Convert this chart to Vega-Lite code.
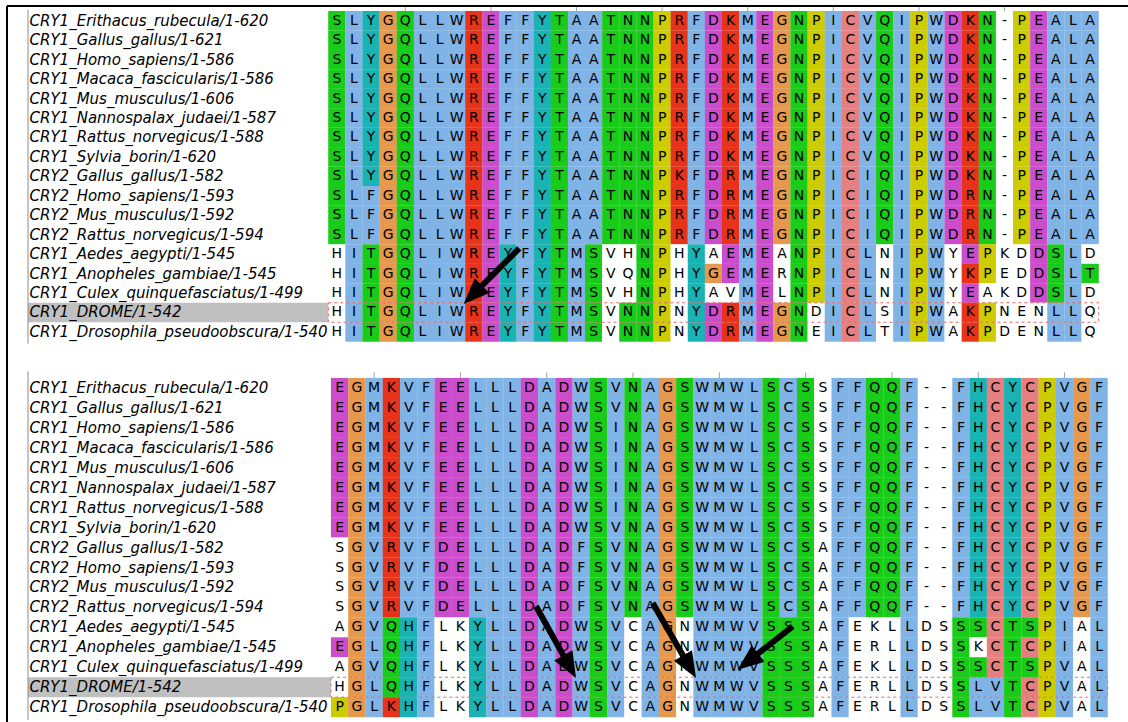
{"$schema":"https://vega.github.io/schema/vega-lite/v6.json","padding":{"left":5,"top":5,"right":0,"bottom":0},"background":"white","config":{"view":{"stroke":null},"axis":{"disable":true}},"spacing":0,"bounds":"flush","resolve":{"scale":{"x":"independent","y":"independent"}},
"datasets":{
"names":[{"r":1,"n":"CRY1_Erithacus_rubecula/1-620"},{"r":2,"n":"CRY1_Gallus_gallus/1-621"},{"r":3,"n":"CRY1_Homo_sapiens/1-586"},{"r":4,"n":"CRY1_Macaca_fascicularis/1-586"},{"r":5,"n":"CRY1_Mus_musculus/1-606"},{"r":6,"n":"CRY1_Nannospalax_judaei/1-587"},{"r":7,"n":"CRY1_Rattus_norvegicus/1-588"},{"r":8,"n":"CRY1_Sylvia_borin/1-620"},{"r":9,"n":"CRY2_Gallus_gallus/1-582"},{"r":10,"n":"CRY2_Homo_sapiens/1-593"},{"r":11,"n":"CRY2_Mus_musculus/1-592"},{"r":12,"n":"CRY2_Rattus_norvegicus/1-594"},{"r":13,"n":"CRY1_Aedes_aegypti/1-545"},{"r":14,"n":"CRY1_Anopheles_gambiae/1-545"},{"r":15,"n":"CRY1_Culex_quinquefasciatus/1-499"},{"r":16,"n":"CRY1_DROME/1-542"},{"r":17,"n":"CRY1_Drosophila_pseudoobscura/1-540"}],
"tickA":[{"c":5},{"c":10},{"c":15},{"c":20},{"c":25},{"c":30},{"c":35},{"c":40}],
"tickB":[{"c":3},{"c":8},{"c":13},{"c":18},{"c":23},{"c":28},{"c":33},{"c":38},{"c":43}],
"arrA":[{"x":11.657,"y":12.7,"nx":9.316,"ny":14.759,"tx":8.409,"ty":15.56}],
"arrB":[{"x":12.377,"y":11.94,"nx":14.074,"ny":14.577,"tx":14.695,"ty":15.54},{"x":19.138,"y":11.78,"nx":21.01,"ny":14.585,"tx":21.647,"ty":15.54},{"x":27.25,"y":12.95,"nx":25.06,"ny":14.437,"tx":24.06,"ty":15.12}],
"top":[
{"r":1,"c":1,"a":"S","k":"g"},{"r":1,"c":2,"a":"L","k":"b"},{"r":1,"c":3,"a":"Y","k":"c"},{"r":1,"c":4,"a":"G","k":"o"},{"r":1,"c":5,"a":"Q","k":"g"},{"r":1,"c":6,"a":"L","k":"b"},{"r":1,"c":7,"a":"L","k":"b"},{"r":1,"c":8,"a":"W","k":"b"},{"r":1,"c":9,"a":"R","k":"r"},{"r":1,"c":10,"a":"E","k":"m"},{"r":1,"c":11,"a":"F","k":"b"},{"r":1,"c":12,"a":"F","k":"b"},{"r":1,"c":13,"a":"Y","k":"c"},{"r":1,"c":14,"a":"T","k":"g"},{"r":1,"c":15,"a":"A","k":"b"},{"r":1,"c":16,"a":"A","k":"b"},{"r":1,"c":17,"a":"T","k":"g"},{"r":1,"c":18,"a":"N","k":"g"},{"r":1,"c":19,"a":"N","k":"g"},{"r":1,"c":20,"a":"P","k":"y"},{"r":1,"c":21,"a":"R","k":"r"},{"r":1,"c":22,"a":"F","k":"b"},{"r":1,"c":23,"a":"D","k":"m"},{"r":1,"c":24,"a":"K","k":"r"},{"r":1,"c":25,"a":"M","k":"b"},{"r":1,"c":26,"a":"E","k":"m"},{"r":1,"c":27,"a":"G","k":"o"},{"r":1,"c":28,"a":"N","k":"g"},{"r":1,"c":29,"a":"P","k":"y"},{"r":1,"c":30,"a":"I","k":"b"},{"r":1,"c":31,"a":"C","k":"p"},{"r":1,"c":32,"a":"V","k":"b"},{"r":1,"c":33,"a":"Q","k":"g"},{"r":1,"c":34,"a":"I","k":"b"},{"r":1,"c":35,"a":"P","k":"y"},{"r":1,"c":36,"a":"W","k":"b"},{"r":1,"c":37,"a":"D","k":"m"},{"r":1,"c":38,"a":"K","k":"r"},{"r":1,"c":39,"a":"N","k":"g"},{"r":1,"c":40,"a":"-","k":"w"},{"r":1,"c":41,"a":"P","k":"y"},{"r":1,"c":42,"a":"E","k":"m"},{"r":1,"c":43,"a":"A","k":"b"},{"r":1,"c":44,"a":"L","k":"b"},{"r":1,"c":45,"a":"A","k":"b"},
{"r":2,"c":1,"a":"S","k":"g"},{"r":2,"c":2,"a":"L","k":"b"},{"r":2,"c":3,"a":"Y","k":"c"},{"r":2,"c":4,"a":"G","k":"o"},{"r":2,"c":5,"a":"Q","k":"g"},{"r":2,"c":6,"a":"L","k":"b"},{"r":2,"c":7,"a":"L","k":"b"},{"r":2,"c":8,"a":"W","k":"b"},{"r":2,"c":9,"a":"R","k":"r"},{"r":2,"c":10,"a":"E","k":"m"},{"r":2,"c":11,"a":"F","k":"b"},{"r":2,"c":12,"a":"F","k":"b"},{"r":2,"c":13,"a":"Y","k":"c"},{"r":2,"c":14,"a":"T","k":"g"},{"r":2,"c":15,"a":"A","k":"b"},{"r":2,"c":16,"a":"A","k":"b"},{"r":2,"c":17,"a":"T","k":"g"},{"r":2,"c":18,"a":"N","k":"g"},{"r":2,"c":19,"a":"N","k":"g"},{"r":2,"c":20,"a":"P","k":"y"},{"r":2,"c":21,"a":"R","k":"r"},{"r":2,"c":22,"a":"F","k":"b"},{"r":2,"c":23,"a":"D","k":"m"},{"r":2,"c":24,"a":"K","k":"r"},{"r":2,"c":25,"a":"M","k":"b"},{"r":2,"c":26,"a":"E","k":"m"},{"r":2,"c":27,"a":"G","k":"o"},{"r":2,"c":28,"a":"N","k":"g"},{"r":2,"c":29,"a":"P","k":"y"},{"r":2,"c":30,"a":"I","k":"b"},{"r":2,"c":31,"a":"C","k":"p"},{"r":2,"c":32,"a":"V","k":"b"},{"r":2,"c":33,"a":"Q","k":"g"},{"r":2,"c":34,"a":"I","k":"b"},{"r":2,"c":35,"a":"P","k":"y"},{"r":2,"c":36,"a":"W","k":"b"},{"r":2,"c":37,"a":"D","k":"m"},{"r":2,"c":38,"a":"K","k":"r"},{"r":2,"c":39,"a":"N","k":"g"},{"r":2,"c":40,"a":"-","k":"w"},{"r":2,"c":41,"a":"P","k":"y"},{"r":2,"c":42,"a":"E","k":"m"},{"r":2,"c":43,"a":"A","k":"b"},{"r":2,"c":44,"a":"L","k":"b"},{"r":2,"c":45,"a":"A","k":"b"},
{"r":3,"c":1,"a":"S","k":"g"},{"r":3,"c":2,"a":"L","k":"b"},{"r":3,"c":3,"a":"Y","k":"c"},{"r":3,"c":4,"a":"G","k":"o"},{"r":3,"c":5,"a":"Q","k":"g"},{"r":3,"c":6,"a":"L","k":"b"},{"r":3,"c":7,"a":"L","k":"b"},{"r":3,"c":8,"a":"W","k":"b"},{"r":3,"c":9,"a":"R","k":"r"},{"r":3,"c":10,"a":"E","k":"m"},{"r":3,"c":11,"a":"F","k":"b"},{"r":3,"c":12,"a":"F","k":"b"},{"r":3,"c":13,"a":"Y","k":"c"},{"r":3,"c":14,"a":"T","k":"g"},{"r":3,"c":15,"a":"A","k":"b"},{"r":3,"c":16,"a":"A","k":"b"},{"r":3,"c":17,"a":"T","k":"g"},{"r":3,"c":18,"a":"N","k":"g"},{"r":3,"c":19,"a":"N","k":"g"},{"r":3,"c":20,"a":"P","k":"y"},{"r":3,"c":21,"a":"R","k":"r"},{"r":3,"c":22,"a":"F","k":"b"},{"r":3,"c":23,"a":"D","k":"m"},{"r":3,"c":24,"a":"K","k":"r"},{"r":3,"c":25,"a":"M","k":"b"},{"r":3,"c":26,"a":"E","k":"m"},{"r":3,"c":27,"a":"G","k":"o"},{"r":3,"c":28,"a":"N","k":"g"},{"r":3,"c":29,"a":"P","k":"y"},{"r":3,"c":30,"a":"I","k":"b"},{"r":3,"c":31,"a":"C","k":"p"},{"r":3,"c":32,"a":"V","k":"b"},{"r":3,"c":33,"a":"Q","k":"g"},{"r":3,"c":34,"a":"I","k":"b"},{"r":3,"c":35,"a":"P","k":"y"},{"r":3,"c":36,"a":"W","k":"b"},{"r":3,"c":37,"a":"D","k":"m"},{"r":3,"c":38,"a":"K","k":"r"},{"r":3,"c":39,"a":"N","k":"g"},{"r":3,"c":40,"a":"-","k":"w"},{"r":3,"c":41,"a":"P","k":"y"},{"r":3,"c":42,"a":"E","k":"m"},{"r":3,"c":43,"a":"A","k":"b"},{"r":3,"c":44,"a":"L","k":"b"},{"r":3,"c":45,"a":"A","k":"b"},
{"r":4,"c":1,"a":"S","k":"g"},{"r":4,"c":2,"a":"L","k":"b"},{"r":4,"c":3,"a":"Y","k":"c"},{"r":4,"c":4,"a":"G","k":"o"},{"r":4,"c":5,"a":"Q","k":"g"},{"r":4,"c":6,"a":"L","k":"b"},{"r":4,"c":7,"a":"L","k":"b"},{"r":4,"c":8,"a":"W","k":"b"},{"r":4,"c":9,"a":"R","k":"r"},{"r":4,"c":10,"a":"E","k":"m"},{"r":4,"c":11,"a":"F","k":"b"},{"r":4,"c":12,"a":"F","k":"b"},{"r":4,"c":13,"a":"Y","k":"c"},{"r":4,"c":14,"a":"T","k":"g"},{"r":4,"c":15,"a":"A","k":"b"},{"r":4,"c":16,"a":"A","k":"b"},{"r":4,"c":17,"a":"T","k":"g"},{"r":4,"c":18,"a":"N","k":"g"},{"r":4,"c":19,"a":"N","k":"g"},{"r":4,"c":20,"a":"P","k":"y"},{"r":4,"c":21,"a":"R","k":"r"},{"r":4,"c":22,"a":"F","k":"b"},{"r":4,"c":23,"a":"D","k":"m"},{"r":4,"c":24,"a":"K","k":"r"},{"r":4,"c":25,"a":"M","k":"b"},{"r":4,"c":26,"a":"E","k":"m"},{"r":4,"c":27,"a":"G","k":"o"},{"r":4,"c":28,"a":"N","k":"g"},{"r":4,"c":29,"a":"P","k":"y"},{"r":4,"c":30,"a":"I","k":"b"},{"r":4,"c":31,"a":"C","k":"p"},{"r":4,"c":32,"a":"V","k":"b"},{"r":4,"c":33,"a":"Q","k":"g"},{"r":4,"c":34,"a":"I","k":"b"},{"r":4,"c":35,"a":"P","k":"y"},{"r":4,"c":36,"a":"W","k":"b"},{"r":4,"c":37,"a":"D","k":"m"},{"r":4,"c":38,"a":"K","k":"r"},{"r":4,"c":39,"a":"N","k":"g"},{"r":4,"c":40,"a":"-","k":"w"},{"r":4,"c":41,"a":"P","k":"y"},{"r":4,"c":42,"a":"E","k":"m"},{"r":4,"c":43,"a":"A","k":"b"},{"r":4,"c":44,"a":"L","k":"b"},{"r":4,"c":45,"a":"A","k":"b"},
{"r":5,"c":1,"a":"S","k":"g"},{"r":5,"c":2,"a":"L","k":"b"},{"r":5,"c":3,"a":"Y","k":"c"},{"r":5,"c":4,"a":"G","k":"o"},{"r":5,"c":5,"a":"Q","k":"g"},{"r":5,"c":6,"a":"L","k":"b"},{"r":5,"c":7,"a":"L","k":"b"},{"r":5,"c":8,"a":"W","k":"b"},{"r":5,"c":9,"a":"R","k":"r"},{"r":5,"c":10,"a":"E","k":"m"},{"r":5,"c":11,"a":"F","k":"b"},{"r":5,"c":12,"a":"F","k":"b"},{"r":5,"c":13,"a":"Y","k":"c"},{"r":5,"c":14,"a":"T","k":"g"},{"r":5,"c":15,"a":"A","k":"b"},{"r":5,"c":16,"a":"A","k":"b"},{"r":5,"c":17,"a":"T","k":"g"},{"r":5,"c":18,"a":"N","k":"g"},{"r":5,"c":19,"a":"N","k":"g"},{"r":5,"c":20,"a":"P","k":"y"},{"r":5,"c":21,"a":"R","k":"r"},{"r":5,"c":22,"a":"F","k":"b"},{"r":5,"c":23,"a":"D","k":"m"},{"r":5,"c":24,"a":"K","k":"r"},{"r":5,"c":25,"a":"M","k":"b"},{"r":5,"c":26,"a":"E","k":"m"},{"r":5,"c":27,"a":"G","k":"o"},{"r":5,"c":28,"a":"N","k":"g"},{"r":5,"c":29,"a":"P","k":"y"},{"r":5,"c":30,"a":"I","k":"b"},{"r":5,"c":31,"a":"C","k":"p"},{"r":5,"c":32,"a":"V","k":"b"},{"r":5,"c":33,"a":"Q","k":"g"},{"r":5,"c":34,"a":"I","k":"b"},{"r":5,"c":35,"a":"P","k":"y"},{"r":5,"c":36,"a":"W","k":"b"},{"r":5,"c":37,"a":"D","k":"m"},{"r":5,"c":38,"a":"K","k":"r"},{"r":5,"c":39,"a":"N","k":"g"},{"r":5,"c":40,"a":"-","k":"w"},{"r":5,"c":41,"a":"P","k":"y"},{"r":5,"c":42,"a":"E","k":"m"},{"r":5,"c":43,"a":"A","k":"b"},{"r":5,"c":44,"a":"L","k":"b"},{"r":5,"c":45,"a":"A","k":"b"},
{"r":6,"c":1,"a":"S","k":"g"},{"r":6,"c":2,"a":"L","k":"b"},{"r":6,"c":3,"a":"Y","k":"c"},{"r":6,"c":4,"a":"G","k":"o"},{"r":6,"c":5,"a":"Q","k":"g"},{"r":6,"c":6,"a":"L","k":"b"},{"r":6,"c":7,"a":"L","k":"b"},{"r":6,"c":8,"a":"W","k":"b"},{"r":6,"c":9,"a":"R","k":"r"},{"r":6,"c":10,"a":"E","k":"m"},{"r":6,"c":11,"a":"F","k":"b"},{"r":6,"c":12,"a":"F","k":"b"},{"r":6,"c":13,"a":"Y","k":"c"},{"r":6,"c":14,"a":"T","k":"g"},{"r":6,"c":15,"a":"A","k":"b"},{"r":6,"c":16,"a":"A","k":"b"},{"r":6,"c":17,"a":"T","k":"g"},{"r":6,"c":18,"a":"N","k":"g"},{"r":6,"c":19,"a":"N","k":"g"},{"r":6,"c":20,"a":"P","k":"y"},{"r":6,"c":21,"a":"R","k":"r"},{"r":6,"c":22,"a":"F","k":"b"},{"r":6,"c":23,"a":"D","k":"m"},{"r":6,"c":24,"a":"K","k":"r"},{"r":6,"c":25,"a":"M","k":"b"},{"r":6,"c":26,"a":"E","k":"m"},{"r":6,"c":27,"a":"G","k":"o"},{"r":6,"c":28,"a":"N","k":"g"},{"r":6,"c":29,"a":"P","k":"y"},{"r":6,"c":30,"a":"I","k":"b"},{"r":6,"c":31,"a":"C","k":"p"},{"r":6,"c":32,"a":"V","k":"b"},{"r":6,"c":33,"a":"Q","k":"g"},{"r":6,"c":34,"a":"I","k":"b"},{"r":6,"c":35,"a":"P","k":"y"},{"r":6,"c":36,"a":"W","k":"b"},{"r":6,"c":37,"a":"D","k":"m"},{"r":6,"c":38,"a":"K","k":"r"},{"r":6,"c":39,"a":"N","k":"g"},{"r":6,"c":40,"a":"-","k":"w"},{"r":6,"c":41,"a":"P","k":"y"},{"r":6,"c":42,"a":"E","k":"m"},{"r":6,"c":43,"a":"A","k":"b"},{"r":6,"c":44,"a":"L","k":"b"},{"r":6,"c":45,"a":"A","k":"b"},
{"r":7,"c":1,"a":"S","k":"g"},{"r":7,"c":2,"a":"L","k":"b"},{"r":7,"c":3,"a":"Y","k":"c"},{"r":7,"c":4,"a":"G","k":"o"},{"r":7,"c":5,"a":"Q","k":"g"},{"r":7,"c":6,"a":"L","k":"b"},{"r":7,"c":7,"a":"L","k":"b"},{"r":7,"c":8,"a":"W","k":"b"},{"r":7,"c":9,"a":"R","k":"r"},{"r":7,"c":10,"a":"E","k":"m"},{"r":7,"c":11,"a":"F","k":"b"},{"r":7,"c":12,"a":"F","k":"b"},{"r":7,"c":13,"a":"Y","k":"c"},{"r":7,"c":14,"a":"T","k":"g"},{"r":7,"c":15,"a":"A","k":"b"},{"r":7,"c":16,"a":"A","k":"b"},{"r":7,"c":17,"a":"T","k":"g"},{"r":7,"c":18,"a":"N","k":"g"},{"r":7,"c":19,"a":"N","k":"g"},{"r":7,"c":20,"a":"P","k":"y"},{"r":7,"c":21,"a":"R","k":"r"},{"r":7,"c":22,"a":"F","k":"b"},{"r":7,"c":23,"a":"D","k":"m"},{"r":7,"c":24,"a":"K","k":"r"},{"r":7,"c":25,"a":"M","k":"b"},{"r":7,"c":26,"a":"E","k":"m"},{"r":7,"c":27,"a":"G","k":"o"},{"r":7,"c":28,"a":"N","k":"g"},{"r":7,"c":29,"a":"P","k":"y"},{"r":7,"c":30,"a":"I","k":"b"},{"r":7,"c":31,"a":"C","k":"p"},{"r":7,"c":32,"a":"V","k":"b"},{"r":7,"c":33,"a":"Q","k":"g"},{"r":7,"c":34,"a":"I","k":"b"},{"r":7,"c":35,"a":"P","k":"y"},{"r":7,"c":36,"a":"W","k":"b"},{"r":7,"c":37,"a":"D","k":"m"},{"r":7,"c":38,"a":"K","k":"r"},{"r":7,"c":39,"a":"N","k":"g"},{"r":7,"c":40,"a":"-","k":"w"},{"r":7,"c":41,"a":"P","k":"y"},{"r":7,"c":42,"a":"E","k":"m"},{"r":7,"c":43,"a":"A","k":"b"},{"r":7,"c":44,"a":"L","k":"b"},{"r":7,"c":45,"a":"A","k":"b"},
{"r":8,"c":1,"a":"S","k":"g"},{"r":8,"c":2,"a":"L","k":"b"},{"r":8,"c":3,"a":"Y","k":"c"},{"r":8,"c":4,"a":"G","k":"o"},{"r":8,"c":5,"a":"Q","k":"g"},{"r":8,"c":6,"a":"L","k":"b"},{"r":8,"c":7,"a":"L","k":"b"},{"r":8,"c":8,"a":"W","k":"b"},{"r":8,"c":9,"a":"R","k":"r"},{"r":8,"c":10,"a":"E","k":"m"},{"r":8,"c":11,"a":"F","k":"b"},{"r":8,"c":12,"a":"F","k":"b"},{"r":8,"c":13,"a":"Y","k":"c"},{"r":8,"c":14,"a":"T","k":"g"},{"r":8,"c":15,"a":"A","k":"b"},{"r":8,"c":16,"a":"A","k":"b"},{"r":8,"c":17,"a":"T","k":"g"},{"r":8,"c":18,"a":"N","k":"g"},{"r":8,"c":19,"a":"N","k":"g"},{"r":8,"c":20,"a":"P","k":"y"},{"r":8,"c":21,"a":"R","k":"r"},{"r":8,"c":22,"a":"F","k":"b"},{"r":8,"c":23,"a":"D","k":"m"},{"r":8,"c":24,"a":"K","k":"r"},{"r":8,"c":25,"a":"M","k":"b"},{"r":8,"c":26,"a":"E","k":"m"},{"r":8,"c":27,"a":"G","k":"o"},{"r":8,"c":28,"a":"N","k":"g"},{"r":8,"c":29,"a":"P","k":"y"},{"r":8,"c":30,"a":"I","k":"b"},{"r":8,"c":31,"a":"C","k":"p"},{"r":8,"c":32,"a":"V","k":"b"},{"r":8,"c":33,"a":"Q","k":"g"},{"r":8,"c":34,"a":"I","k":"b"},{"r":8,"c":35,"a":"P","k":"y"},{"r":8,"c":36,"a":"W","k":"b"},{"r":8,"c":37,"a":"D","k":"m"},{"r":8,"c":38,"a":"K","k":"r"},{"r":8,"c":39,"a":"N","k":"g"},{"r":8,"c":40,"a":"-","k":"w"},{"r":8,"c":41,"a":"P","k":"y"},{"r":8,"c":42,"a":"E","k":"m"},{"r":8,"c":43,"a":"A","k":"b"},{"r":8,"c":44,"a":"L","k":"b"},{"r":8,"c":45,"a":"A","k":"b"},
{"r":9,"c":1,"a":"S","k":"g"},{"r":9,"c":2,"a":"L","k":"b"},{"r":9,"c":3,"a":"Y","k":"c"},{"r":9,"c":4,"a":"G","k":"o"},{"r":9,"c":5,"a":"Q","k":"g"},{"r":9,"c":6,"a":"L","k":"b"},{"r":9,"c":7,"a":"L","k":"b"},{"r":9,"c":8,"a":"W","k":"b"},{"r":9,"c":9,"a":"R","k":"r"},{"r":9,"c":10,"a":"E","k":"m"},{"r":9,"c":11,"a":"F","k":"b"},{"r":9,"c":12,"a":"F","k":"b"},{"r":9,"c":13,"a":"Y","k":"c"},{"r":9,"c":14,"a":"T","k":"g"},{"r":9,"c":15,"a":"A","k":"b"},{"r":9,"c":16,"a":"A","k":"b"},{"r":9,"c":17,"a":"T","k":"g"},{"r":9,"c":18,"a":"N","k":"g"},{"r":9,"c":19,"a":"N","k":"g"},{"r":9,"c":20,"a":"P","k":"y"},{"r":9,"c":21,"a":"K","k":"r"},{"r":9,"c":22,"a":"F","k":"b"},{"r":9,"c":23,"a":"D","k":"m"},{"r":9,"c":24,"a":"R","k":"r"},{"r":9,"c":25,"a":"M","k":"b"},{"r":9,"c":26,"a":"E","k":"m"},{"r":9,"c":27,"a":"G","k":"o"},{"r":9,"c":28,"a":"N","k":"g"},{"r":9,"c":29,"a":"P","k":"y"},{"r":9,"c":30,"a":"I","k":"b"},{"r":9,"c":31,"a":"C","k":"p"},{"r":9,"c":32,"a":"I","k":"b"},{"r":9,"c":33,"a":"Q","k":"g"},{"r":9,"c":34,"a":"I","k":"b"},{"r":9,"c":35,"a":"P","k":"y"},{"r":9,"c":36,"a":"W","k":"b"},{"r":9,"c":37,"a":"D","k":"m"},{"r":9,"c":38,"a":"K","k":"r"},{"r":9,"c":39,"a":"N","k":"g"},{"r":9,"c":40,"a":"-","k":"w"},{"r":9,"c":41,"a":"P","k":"y"},{"r":9,"c":42,"a":"E","k":"m"},{"r":9,"c":43,"a":"A","k":"b"},{"r":9,"c":44,"a":"L","k":"b"},{"r":9,"c":45,"a":"A","k":"b"},
{"r":10,"c":1,"a":"S","k":"g"},{"r":10,"c":2,"a":"L","k":"b"},{"r":10,"c":3,"a":"F","k":"b"},{"r":10,"c":4,"a":"G","k":"o"},{"r":10,"c":5,"a":"Q","k":"g"},{"r":10,"c":6,"a":"L","k":"b"},{"r":10,"c":7,"a":"L","k":"b"},{"r":10,"c":8,"a":"W","k":"b"},{"r":10,"c":9,"a":"R","k":"r"},{"r":10,"c":10,"a":"E","k":"m"},{"r":10,"c":11,"a":"F","k":"b"},{"r":10,"c":12,"a":"F","k":"b"},{"r":10,"c":13,"a":"Y","k":"c"},{"r":10,"c":14,"a":"T","k":"g"},{"r":10,"c":15,"a":"A","k":"b"},{"r":10,"c":16,"a":"A","k":"b"},{"r":10,"c":17,"a":"T","k":"g"},{"r":10,"c":18,"a":"N","k":"g"},{"r":10,"c":19,"a":"N","k":"g"},{"r":10,"c":20,"a":"P","k":"y"},{"r":10,"c":21,"a":"R","k":"r"},{"r":10,"c":22,"a":"F","k":"b"},{"r":10,"c":23,"a":"D","k":"m"},{"r":10,"c":24,"a":"R","k":"r"},{"r":10,"c":25,"a":"M","k":"b"},{"r":10,"c":26,"a":"E","k":"m"},{"r":10,"c":27,"a":"G","k":"o"},{"r":10,"c":28,"a":"N","k":"g"},{"r":10,"c":29,"a":"P","k":"y"},{"r":10,"c":30,"a":"I","k":"b"},{"r":10,"c":31,"a":"C","k":"p"},{"r":10,"c":32,"a":"I","k":"b"},{"r":10,"c":33,"a":"Q","k":"g"},{"r":10,"c":34,"a":"I","k":"b"},{"r":10,"c":35,"a":"P","k":"y"},{"r":10,"c":36,"a":"W","k":"b"},{"r":10,"c":37,"a":"D","k":"m"},{"r":10,"c":38,"a":"R","k":"r"},{"r":10,"c":39,"a":"N","k":"g"},{"r":10,"c":40,"a":"-","k":"w"},{"r":10,"c":41,"a":"P","k":"y"},{"r":10,"c":42,"a":"E","k":"m"},{"r":10,"c":43,"a":"A","k":"b"},{"r":10,"c":44,"a":"L","k":"b"},{"r":10,"c":45,"a":"A","k":"b"},
{"r":11,"c":1,"a":"S","k":"g"},{"r":11,"c":2,"a":"L","k":"b"},{"r":11,"c":3,"a":"F","k":"b"},{"r":11,"c":4,"a":"G","k":"o"},{"r":11,"c":5,"a":"Q","k":"g"},{"r":11,"c":6,"a":"L","k":"b"},{"r":11,"c":7,"a":"L","k":"b"},{"r":11,"c":8,"a":"W","k":"b"},{"r":11,"c":9,"a":"R","k":"r"},{"r":11,"c":10,"a":"E","k":"m"},{"r":11,"c":11,"a":"F","k":"b"},{"r":11,"c":12,"a":"F","k":"b"},{"r":11,"c":13,"a":"Y","k":"c"},{"r":11,"c":14,"a":"T","k":"g"},{"r":11,"c":15,"a":"A","k":"b"},{"r":11,"c":16,"a":"A","k":"b"},{"r":11,"c":17,"a":"T","k":"g"},{"r":11,"c":18,"a":"N","k":"g"},{"r":11,"c":19,"a":"N","k":"g"},{"r":11,"c":20,"a":"P","k":"y"},{"r":11,"c":21,"a":"R","k":"r"},{"r":11,"c":22,"a":"F","k":"b"},{"r":11,"c":23,"a":"D","k":"m"},{"r":11,"c":24,"a":"R","k":"r"},{"r":11,"c":25,"a":"M","k":"b"},{"r":11,"c":26,"a":"E","k":"m"},{"r":11,"c":27,"a":"G","k":"o"},{"r":11,"c":28,"a":"N","k":"g"},{"r":11,"c":29,"a":"P","k":"y"},{"r":11,"c":30,"a":"I","k":"b"},{"r":11,"c":31,"a":"C","k":"p"},{"r":11,"c":32,"a":"I","k":"b"},{"r":11,"c":33,"a":"Q","k":"g"},{"r":11,"c":34,"a":"I","k":"b"},{"r":11,"c":35,"a":"P","k":"y"},{"r":11,"c":36,"a":"W","k":"b"},{"r":11,"c":37,"a":"D","k":"m"},{"r":11,"c":38,"a":"R","k":"r"},{"r":11,"c":39,"a":"N","k":"g"},{"r":11,"c":40,"a":"-","k":"w"},{"r":11,"c":41,"a":"P","k":"y"},{"r":11,"c":42,"a":"E","k":"m"},{"r":11,"c":43,"a":"A","k":"b"},{"r":11,"c":44,"a":"L","k":"b"},{"r":11,"c":45,"a":"A","k":"b"},
{"r":12,"c":1,"a":"S","k":"g"},{"r":12,"c":2,"a":"L","k":"b"},{"r":12,"c":3,"a":"F","k":"b"},{"r":12,"c":4,"a":"G","k":"o"},{"r":12,"c":5,"a":"Q","k":"g"},{"r":12,"c":6,"a":"L","k":"b"},{"r":12,"c":7,"a":"L","k":"b"},{"r":12,"c":8,"a":"W","k":"b"},{"r":12,"c":9,"a":"R","k":"r"},{"r":12,"c":10,"a":"E","k":"m"},{"r":12,"c":11,"a":"F","k":"b"},{"r":12,"c":12,"a":"F","k":"b"},{"r":12,"c":13,"a":"Y","k":"c"},{"r":12,"c":14,"a":"T","k":"g"},{"r":12,"c":15,"a":"A","k":"b"},{"r":12,"c":16,"a":"A","k":"b"},{"r":12,"c":17,"a":"T","k":"g"},{"r":12,"c":18,"a":"N","k":"g"},{"r":12,"c":19,"a":"N","k":"g"},{"r":12,"c":20,"a":"P","k":"y"},{"r":12,"c":21,"a":"R","k":"r"},{"r":12,"c":22,"a":"F","k":"b"},{"r":12,"c":23,"a":"D","k":"m"},{"r":12,"c":24,"a":"R","k":"r"},{"r":12,"c":25,"a":"M","k":"b"},{"r":12,"c":26,"a":"E","k":"m"},{"r":12,"c":27,"a":"G","k":"o"},{"r":12,"c":28,"a":"N","k":"g"},{"r":12,"c":29,"a":"P","k":"y"},{"r":12,"c":30,"a":"I","k":"b"},{"r":12,"c":31,"a":"C","k":"p"},{"r":12,"c":32,"a":"I","k":"b"},{"r":12,"c":33,"a":"Q","k":"g"},{"r":12,"c":34,"a":"I","k":"b"},{"r":12,"c":35,"a":"P","k":"y"},{"r":12,"c":36,"a":"W","k":"b"},{"r":12,"c":37,"a":"D","k":"m"},{"r":12,"c":38,"a":"R","k":"r"},{"r":12,"c":39,"a":"N","k":"g"},{"r":12,"c":40,"a":"-","k":"w"},{"r":12,"c":41,"a":"P","k":"y"},{"r":12,"c":42,"a":"E","k":"m"},{"r":12,"c":43,"a":"A","k":"b"},{"r":12,"c":44,"a":"L","k":"b"},{"r":12,"c":45,"a":"A","k":"b"},
{"r":13,"c":1,"a":"H","k":"w"},{"r":13,"c":2,"a":"I","k":"b"},{"r":13,"c":3,"a":"T","k":"g"},{"r":13,"c":4,"a":"G","k":"o"},{"r":13,"c":5,"a":"Q","k":"g"},{"r":13,"c":6,"a":"L","k":"b"},{"r":13,"c":7,"a":"I","k":"b"},{"r":13,"c":8,"a":"W","k":"b"},{"r":13,"c":9,"a":"R","k":"r"},{"r":13,"c":10,"a":"E","k":"m"},{"r":13,"c":11,"a":"Y","k":"c"},{"r":13,"c":12,"a":"F","k":"b"},{"r":13,"c":13,"a":"Y","k":"c"},{"r":13,"c":14,"a":"T","k":"g"},{"r":13,"c":15,"a":"M","k":"b"},{"r":13,"c":16,"a":"S","k":"g"},{"r":13,"c":17,"a":"V","k":"w"},{"r":13,"c":18,"a":"H","k":"w"},{"r":13,"c":19,"a":"N","k":"g"},{"r":13,"c":20,"a":"P","k":"y"},{"r":13,"c":21,"a":"H","k":"w"},{"r":13,"c":22,"a":"Y","k":"c"},{"r":13,"c":23,"a":"A","k":"w"},{"r":13,"c":24,"a":"E","k":"m"},{"r":13,"c":25,"a":"M","k":"b"},{"r":13,"c":26,"a":"E","k":"m"},{"r":13,"c":27,"a":"A","k":"w"},{"r":13,"c":28,"a":"N","k":"g"},{"r":13,"c":29,"a":"P","k":"y"},{"r":13,"c":30,"a":"I","k":"b"},{"r":13,"c":31,"a":"C","k":"p"},{"r":13,"c":32,"a":"L","k":"b"},{"r":13,"c":33,"a":"N","k":"w"},{"r":13,"c":34,"a":"I","k":"b"},{"r":13,"c":35,"a":"P","k":"y"},{"r":13,"c":36,"a":"W","k":"b"},{"r":13,"c":37,"a":"Y","k":"w"},{"r":13,"c":38,"a":"E","k":"m"},{"r":13,"c":39,"a":"P","k":"y"},{"r":13,"c":40,"a":"K","k":"w"},{"r":13,"c":41,"a":"D","k":"w"},{"r":13,"c":42,"a":"D","k":"m"},{"r":13,"c":43,"a":"S","k":"g"},{"r":13,"c":44,"a":"L","k":"b"},{"r":13,"c":45,"a":"D","k":"w"},
{"r":14,"c":1,"a":"H","k":"w"},{"r":14,"c":2,"a":"I","k":"b"},{"r":14,"c":3,"a":"T","k":"g"},{"r":14,"c":4,"a":"G","k":"o"},{"r":14,"c":5,"a":"Q","k":"g"},{"r":14,"c":6,"a":"L","k":"b"},{"r":14,"c":7,"a":"I","k":"b"},{"r":14,"c":8,"a":"W","k":"b"},{"r":14,"c":9,"a":"R","k":"r"},{"r":14,"c":10,"a":"E","k":"m"},{"r":14,"c":11,"a":"Y","k":"c"},{"r":14,"c":12,"a":"F","k":"b"},{"r":14,"c":13,"a":"Y","k":"c"},{"r":14,"c":14,"a":"T","k":"g"},{"r":14,"c":15,"a":"M","k":"b"},{"r":14,"c":16,"a":"S","k":"g"},{"r":14,"c":17,"a":"V","k":"w"},{"r":14,"c":18,"a":"Q","k":"w"},{"r":14,"c":19,"a":"N","k":"g"},{"r":14,"c":20,"a":"P","k":"y"},{"r":14,"c":21,"a":"H","k":"w"},{"r":14,"c":22,"a":"Y","k":"c"},{"r":14,"c":23,"a":"G","k":"o"},{"r":14,"c":24,"a":"E","k":"m"},{"r":14,"c":25,"a":"M","k":"b"},{"r":14,"c":26,"a":"E","k":"m"},{"r":14,"c":27,"a":"R","k":"w"},{"r":14,"c":28,"a":"N","k":"g"},{"r":14,"c":29,"a":"P","k":"y"},{"r":14,"c":30,"a":"I","k":"b"},{"r":14,"c":31,"a":"C","k":"p"},{"r":14,"c":32,"a":"L","k":"b"},{"r":14,"c":33,"a":"N","k":"w"},{"r":14,"c":34,"a":"I","k":"b"},{"r":14,"c":35,"a":"P","k":"y"},{"r":14,"c":36,"a":"W","k":"b"},{"r":14,"c":37,"a":"Y","k":"w"},{"r":14,"c":38,"a":"K","k":"r"},{"r":14,"c":39,"a":"P","k":"y"},{"r":14,"c":40,"a":"E","k":"w"},{"r":14,"c":41,"a":"D","k":"w"},{"r":14,"c":42,"a":"D","k":"m"},{"r":14,"c":43,"a":"S","k":"g"},{"r":14,"c":44,"a":"L","k":"b"},{"r":14,"c":45,"a":"T","k":"g"},
{"r":15,"c":1,"a":"H","k":"w"},{"r":15,"c":2,"a":"I","k":"b"},{"r":15,"c":3,"a":"T","k":"g"},{"r":15,"c":4,"a":"G","k":"o"},{"r":15,"c":5,"a":"Q","k":"g"},{"r":15,"c":6,"a":"L","k":"b"},{"r":15,"c":7,"a":"I","k":"b"},{"r":15,"c":8,"a":"W","k":"b"},{"r":15,"c":9,"a":"R","k":"r"},{"r":15,"c":10,"a":"E","k":"m"},{"r":15,"c":11,"a":"Y","k":"c"},{"r":15,"c":12,"a":"F","k":"b"},{"r":15,"c":13,"a":"Y","k":"c"},{"r":15,"c":14,"a":"T","k":"g"},{"r":15,"c":15,"a":"M","k":"b"},{"r":15,"c":16,"a":"S","k":"g"},{"r":15,"c":17,"a":"V","k":"w"},{"r":15,"c":18,"a":"H","k":"w"},{"r":15,"c":19,"a":"N","k":"g"},{"r":15,"c":20,"a":"P","k":"y"},{"r":15,"c":21,"a":"H","k":"w"},{"r":15,"c":22,"a":"Y","k":"c"},{"r":15,"c":23,"a":"A","k":"w"},{"r":15,"c":24,"a":"V","k":"w"},{"r":15,"c":25,"a":"M","k":"b"},{"r":15,"c":26,"a":"E","k":"m"},{"r":15,"c":27,"a":"L","k":"w"},{"r":15,"c":28,"a":"N","k":"g"},{"r":15,"c":29,"a":"P","k":"y"},{"r":15,"c":30,"a":"I","k":"b"},{"r":15,"c":31,"a":"C","k":"p"},{"r":15,"c":32,"a":"L","k":"b"},{"r":15,"c":33,"a":"N","k":"w"},{"r":15,"c":34,"a":"I","k":"b"},{"r":15,"c":35,"a":"P","k":"y"},{"r":15,"c":36,"a":"W","k":"b"},{"r":15,"c":37,"a":"Y","k":"w"},{"r":15,"c":38,"a":"E","k":"m"},{"r":15,"c":39,"a":"A","k":"w"},{"r":15,"c":40,"a":"K","k":"w"},{"r":15,"c":41,"a":"D","k":"w"},{"r":15,"c":42,"a":"D","k":"m"},{"r":15,"c":43,"a":"S","k":"g"},{"r":15,"c":44,"a":"L","k":"b"},{"r":15,"c":45,"a":"D","k":"w"},
{"r":16,"c":1,"a":"H","k":"w"},{"r":16,"c":2,"a":"I","k":"b"},{"r":16,"c":3,"a":"T","k":"g"},{"r":16,"c":4,"a":"G","k":"o"},{"r":16,"c":5,"a":"Q","k":"g"},{"r":16,"c":6,"a":"L","k":"b"},{"r":16,"c":7,"a":"I","k":"b"},{"r":16,"c":8,"a":"W","k":"b"},{"r":16,"c":9,"a":"R","k":"r"},{"r":16,"c":10,"a":"E","k":"m"},{"r":16,"c":11,"a":"Y","k":"c"},{"r":16,"c":12,"a":"F","k":"b"},{"r":16,"c":13,"a":"Y","k":"c"},{"r":16,"c":14,"a":"T","k":"g"},{"r":16,"c":15,"a":"M","k":"b"},{"r":16,"c":16,"a":"S","k":"g"},{"r":16,"c":17,"a":"V","k":"w"},{"r":16,"c":18,"a":"N","k":"g"},{"r":16,"c":19,"a":"N","k":"g"},{"r":16,"c":20,"a":"P","k":"y"},{"r":16,"c":21,"a":"N","k":"w"},{"r":16,"c":22,"a":"Y","k":"c"},{"r":16,"c":23,"a":"D","k":"m"},{"r":16,"c":24,"a":"R","k":"r"},{"r":16,"c":25,"a":"M","k":"b"},{"r":16,"c":26,"a":"E","k":"m"},{"r":16,"c":27,"a":"G","k":"o"},{"r":16,"c":28,"a":"N","k":"g"},{"r":16,"c":29,"a":"D","k":"w"},{"r":16,"c":30,"a":"I","k":"b"},{"r":16,"c":31,"a":"C","k":"p"},{"r":16,"c":32,"a":"L","k":"b"},{"r":16,"c":33,"a":"S","k":"w"},{"r":16,"c":34,"a":"I","k":"b"},{"r":16,"c":35,"a":"P","k":"y"},{"r":16,"c":36,"a":"W","k":"b"},{"r":16,"c":37,"a":"A","k":"w"},{"r":16,"c":38,"a":"K","k":"r"},{"r":16,"c":39,"a":"P","k":"y"},{"r":16,"c":40,"a":"N","k":"w"},{"r":16,"c":41,"a":"E","k":"w"},{"r":16,"c":42,"a":"N","k":"w"},{"r":16,"c":43,"a":"L","k":"b"},{"r":16,"c":44,"a":"L","k":"b"},{"r":16,"c":45,"a":"Q","k":"w"},
{"r":17,"c":1,"a":"H","k":"w"},{"r":17,"c":2,"a":"I","k":"b"},{"r":17,"c":3,"a":"T","k":"g"},{"r":17,"c":4,"a":"G","k":"o"},{"r":17,"c":5,"a":"Q","k":"g"},{"r":17,"c":6,"a":"L","k":"b"},{"r":17,"c":7,"a":"I","k":"b"},{"r":17,"c":8,"a":"W","k":"b"},{"r":17,"c":9,"a":"R","k":"r"},{"r":17,"c":10,"a":"E","k":"m"},{"r":17,"c":11,"a":"Y","k":"c"},{"r":17,"c":12,"a":"F","k":"b"},{"r":17,"c":13,"a":"Y","k":"c"},{"r":17,"c":14,"a":"T","k":"g"},{"r":17,"c":15,"a":"M","k":"b"},{"r":17,"c":16,"a":"S","k":"g"},{"r":17,"c":17,"a":"V","k":"w"},{"r":17,"c":18,"a":"N","k":"g"},{"r":17,"c":19,"a":"N","k":"g"},{"r":17,"c":20,"a":"P","k":"y"},{"r":17,"c":21,"a":"N","k":"w"},{"r":17,"c":22,"a":"Y","k":"c"},{"r":17,"c":23,"a":"D","k":"m"},{"r":17,"c":24,"a":"R","k":"r"},{"r":17,"c":25,"a":"M","k":"b"},{"r":17,"c":26,"a":"E","k":"m"},{"r":17,"c":27,"a":"G","k":"o"},{"r":17,"c":28,"a":"N","k":"g"},{"r":17,"c":29,"a":"E","k":"w"},{"r":17,"c":30,"a":"I","k":"b"},{"r":17,"c":31,"a":"C","k":"p"},{"r":17,"c":32,"a":"L","k":"b"},{"r":17,"c":33,"a":"T","k":"w"},{"r":17,"c":34,"a":"I","k":"b"},{"r":17,"c":35,"a":"P","k":"y"},{"r":17,"c":36,"a":"W","k":"b"},{"r":17,"c":37,"a":"A","k":"w"},{"r":17,"c":38,"a":"K","k":"r"},{"r":17,"c":39,"a":"P","k":"y"},{"r":17,"c":40,"a":"D","k":"w"},{"r":17,"c":41,"a":"E","k":"w"},{"r":17,"c":42,"a":"N","k":"w"},{"r":17,"c":43,"a":"L","k":"b"},{"r":17,"c":44,"a":"L","k":"b"},{"r":17,"c":45,"a":"Q","k":"w"}
],
"bot":[
{"r":1,"c":1,"a":"E","k":"m"},{"r":1,"c":2,"a":"G","k":"o"},{"r":1,"c":3,"a":"M","k":"b"},{"r":1,"c":4,"a":"K","k":"r"},{"r":1,"c":5,"a":"V","k":"b"},{"r":1,"c":6,"a":"F","k":"b"},{"r":1,"c":7,"a":"E","k":"m"},{"r":1,"c":8,"a":"E","k":"m"},{"r":1,"c":9,"a":"L","k":"b"},{"r":1,"c":10,"a":"L","k":"b"},{"r":1,"c":11,"a":"L","k":"b"},{"r":1,"c":12,"a":"D","k":"m"},{"r":1,"c":13,"a":"A","k":"b"},{"r":1,"c":14,"a":"D","k":"m"},{"r":1,"c":15,"a":"W","k":"b"},{"r":1,"c":16,"a":"S","k":"g"},{"r":1,"c":17,"a":"V","k":"b"},{"r":1,"c":18,"a":"N","k":"g"},{"r":1,"c":19,"a":"A","k":"b"},{"r":1,"c":20,"a":"G","k":"o"},{"r":1,"c":21,"a":"S","k":"g"},{"r":1,"c":22,"a":"W","k":"b"},{"r":1,"c":23,"a":"M","k":"b"},{"r":1,"c":24,"a":"W","k":"b"},{"r":1,"c":25,"a":"L","k":"b"},{"r":1,"c":26,"a":"S","k":"g"},{"r":1,"c":27,"a":"C","k":"b"},{"r":1,"c":28,"a":"S","k":"g"},{"r":1,"c":29,"a":"S","k":"w"},{"r":1,"c":30,"a":"F","k":"b"},{"r":1,"c":31,"a":"F","k":"b"},{"r":1,"c":32,"a":"Q","k":"g"},{"r":1,"c":33,"a":"Q","k":"g"},{"r":1,"c":34,"a":"F","k":"b"},{"r":1,"c":35,"a":"-","k":"w"},{"r":1,"c":36,"a":"-","k":"w"},{"r":1,"c":37,"a":"F","k":"b"},{"r":1,"c":38,"a":"H","k":"c"},{"r":1,"c":39,"a":"C","k":"p"},{"r":1,"c":40,"a":"Y","k":"c"},{"r":1,"c":41,"a":"C","k":"p"},{"r":1,"c":42,"a":"P","k":"y"},{"r":1,"c":43,"a":"V","k":"b"},{"r":1,"c":44,"a":"G","k":"o"},{"r":1,"c":45,"a":"F","k":"b"},
{"r":2,"c":1,"a":"E","k":"m"},{"r":2,"c":2,"a":"G","k":"o"},{"r":2,"c":3,"a":"M","k":"b"},{"r":2,"c":4,"a":"K","k":"r"},{"r":2,"c":5,"a":"V","k":"b"},{"r":2,"c":6,"a":"F","k":"b"},{"r":2,"c":7,"a":"E","k":"m"},{"r":2,"c":8,"a":"E","k":"m"},{"r":2,"c":9,"a":"L","k":"b"},{"r":2,"c":10,"a":"L","k":"b"},{"r":2,"c":11,"a":"L","k":"b"},{"r":2,"c":12,"a":"D","k":"m"},{"r":2,"c":13,"a":"A","k":"b"},{"r":2,"c":14,"a":"D","k":"m"},{"r":2,"c":15,"a":"W","k":"b"},{"r":2,"c":16,"a":"S","k":"g"},{"r":2,"c":17,"a":"V","k":"b"},{"r":2,"c":18,"a":"N","k":"g"},{"r":2,"c":19,"a":"A","k":"b"},{"r":2,"c":20,"a":"G","k":"o"},{"r":2,"c":21,"a":"S","k":"g"},{"r":2,"c":22,"a":"W","k":"b"},{"r":2,"c":23,"a":"M","k":"b"},{"r":2,"c":24,"a":"W","k":"b"},{"r":2,"c":25,"a":"L","k":"b"},{"r":2,"c":26,"a":"S","k":"g"},{"r":2,"c":27,"a":"C","k":"b"},{"r":2,"c":28,"a":"S","k":"g"},{"r":2,"c":29,"a":"S","k":"w"},{"r":2,"c":30,"a":"F","k":"b"},{"r":2,"c":31,"a":"F","k":"b"},{"r":2,"c":32,"a":"Q","k":"g"},{"r":2,"c":33,"a":"Q","k":"g"},{"r":2,"c":34,"a":"F","k":"b"},{"r":2,"c":35,"a":"-","k":"w"},{"r":2,"c":36,"a":"-","k":"w"},{"r":2,"c":37,"a":"F","k":"b"},{"r":2,"c":38,"a":"H","k":"c"},{"r":2,"c":39,"a":"C","k":"p"},{"r":2,"c":40,"a":"Y","k":"c"},{"r":2,"c":41,"a":"C","k":"p"},{"r":2,"c":42,"a":"P","k":"y"},{"r":2,"c":43,"a":"V","k":"b"},{"r":2,"c":44,"a":"G","k":"o"},{"r":2,"c":45,"a":"F","k":"b"},
{"r":3,"c":1,"a":"E","k":"m"},{"r":3,"c":2,"a":"G","k":"o"},{"r":3,"c":3,"a":"M","k":"b"},{"r":3,"c":4,"a":"K","k":"r"},{"r":3,"c":5,"a":"V","k":"b"},{"r":3,"c":6,"a":"F","k":"b"},{"r":3,"c":7,"a":"E","k":"m"},{"r":3,"c":8,"a":"E","k":"m"},{"r":3,"c":9,"a":"L","k":"b"},{"r":3,"c":10,"a":"L","k":"b"},{"r":3,"c":11,"a":"L","k":"b"},{"r":3,"c":12,"a":"D","k":"m"},{"r":3,"c":13,"a":"A","k":"b"},{"r":3,"c":14,"a":"D","k":"m"},{"r":3,"c":15,"a":"W","k":"b"},{"r":3,"c":16,"a":"S","k":"g"},{"r":3,"c":17,"a":"I","k":"b"},{"r":3,"c":18,"a":"N","k":"g"},{"r":3,"c":19,"a":"A","k":"b"},{"r":3,"c":20,"a":"G","k":"o"},{"r":3,"c":21,"a":"S","k":"g"},{"r":3,"c":22,"a":"W","k":"b"},{"r":3,"c":23,"a":"M","k":"b"},{"r":3,"c":24,"a":"W","k":"b"},{"r":3,"c":25,"a":"L","k":"b"},{"r":3,"c":26,"a":"S","k":"g"},{"r":3,"c":27,"a":"C","k":"b"},{"r":3,"c":28,"a":"S","k":"g"},{"r":3,"c":29,"a":"S","k":"w"},{"r":3,"c":30,"a":"F","k":"b"},{"r":3,"c":31,"a":"F","k":"b"},{"r":3,"c":32,"a":"Q","k":"g"},{"r":3,"c":33,"a":"Q","k":"g"},{"r":3,"c":34,"a":"F","k":"b"},{"r":3,"c":35,"a":"-","k":"w"},{"r":3,"c":36,"a":"-","k":"w"},{"r":3,"c":37,"a":"F","k":"b"},{"r":3,"c":38,"a":"H","k":"c"},{"r":3,"c":39,"a":"C","k":"p"},{"r":3,"c":40,"a":"Y","k":"c"},{"r":3,"c":41,"a":"C","k":"p"},{"r":3,"c":42,"a":"P","k":"y"},{"r":3,"c":43,"a":"V","k":"b"},{"r":3,"c":44,"a":"G","k":"o"},{"r":3,"c":45,"a":"F","k":"b"},
{"r":4,"c":1,"a":"E","k":"m"},{"r":4,"c":2,"a":"G","k":"o"},{"r":4,"c":3,"a":"M","k":"b"},{"r":4,"c":4,"a":"K","k":"r"},{"r":4,"c":5,"a":"V","k":"b"},{"r":4,"c":6,"a":"F","k":"b"},{"r":4,"c":7,"a":"E","k":"m"},{"r":4,"c":8,"a":"E","k":"m"},{"r":4,"c":9,"a":"L","k":"b"},{"r":4,"c":10,"a":"L","k":"b"},{"r":4,"c":11,"a":"L","k":"b"},{"r":4,"c":12,"a":"D","k":"m"},{"r":4,"c":13,"a":"A","k":"b"},{"r":4,"c":14,"a":"D","k":"m"},{"r":4,"c":15,"a":"W","k":"b"},{"r":4,"c":16,"a":"S","k":"g"},{"r":4,"c":17,"a":"I","k":"b"},{"r":4,"c":18,"a":"N","k":"g"},{"r":4,"c":19,"a":"A","k":"b"},{"r":4,"c":20,"a":"G","k":"o"},{"r":4,"c":21,"a":"S","k":"g"},{"r":4,"c":22,"a":"W","k":"b"},{"r":4,"c":23,"a":"M","k":"b"},{"r":4,"c":24,"a":"W","k":"b"},{"r":4,"c":25,"a":"L","k":"b"},{"r":4,"c":26,"a":"S","k":"g"},{"r":4,"c":27,"a":"C","k":"b"},{"r":4,"c":28,"a":"S","k":"g"},{"r":4,"c":29,"a":"S","k":"w"},{"r":4,"c":30,"a":"F","k":"b"},{"r":4,"c":31,"a":"F","k":"b"},{"r":4,"c":32,"a":"Q","k":"g"},{"r":4,"c":33,"a":"Q","k":"g"},{"r":4,"c":34,"a":"F","k":"b"},{"r":4,"c":35,"a":"-","k":"w"},{"r":4,"c":36,"a":"-","k":"w"},{"r":4,"c":37,"a":"F","k":"b"},{"r":4,"c":38,"a":"H","k":"c"},{"r":4,"c":39,"a":"C","k":"p"},{"r":4,"c":40,"a":"Y","k":"c"},{"r":4,"c":41,"a":"C","k":"p"},{"r":4,"c":42,"a":"P","k":"y"},{"r":4,"c":43,"a":"V","k":"b"},{"r":4,"c":44,"a":"G","k":"o"},{"r":4,"c":45,"a":"F","k":"b"},
{"r":5,"c":1,"a":"E","k":"m"},{"r":5,"c":2,"a":"G","k":"o"},{"r":5,"c":3,"a":"M","k":"b"},{"r":5,"c":4,"a":"K","k":"r"},{"r":5,"c":5,"a":"V","k":"b"},{"r":5,"c":6,"a":"F","k":"b"},{"r":5,"c":7,"a":"E","k":"m"},{"r":5,"c":8,"a":"E","k":"m"},{"r":5,"c":9,"a":"L","k":"b"},{"r":5,"c":10,"a":"L","k":"b"},{"r":5,"c":11,"a":"L","k":"b"},{"r":5,"c":12,"a":"D","k":"m"},{"r":5,"c":13,"a":"A","k":"b"},{"r":5,"c":14,"a":"D","k":"m"},{"r":5,"c":15,"a":"W","k":"b"},{"r":5,"c":16,"a":"S","k":"g"},{"r":5,"c":17,"a":"I","k":"b"},{"r":5,"c":18,"a":"N","k":"g"},{"r":5,"c":19,"a":"A","k":"b"},{"r":5,"c":20,"a":"G","k":"o"},{"r":5,"c":21,"a":"S","k":"g"},{"r":5,"c":22,"a":"W","k":"b"},{"r":5,"c":23,"a":"M","k":"b"},{"r":5,"c":24,"a":"W","k":"b"},{"r":5,"c":25,"a":"L","k":"b"},{"r":5,"c":26,"a":"S","k":"g"},{"r":5,"c":27,"a":"C","k":"b"},{"r":5,"c":28,"a":"S","k":"g"},{"r":5,"c":29,"a":"S","k":"w"},{"r":5,"c":30,"a":"F","k":"b"},{"r":5,"c":31,"a":"F","k":"b"},{"r":5,"c":32,"a":"Q","k":"g"},{"r":5,"c":33,"a":"Q","k":"g"},{"r":5,"c":34,"a":"F","k":"b"},{"r":5,"c":35,"a":"-","k":"w"},{"r":5,"c":36,"a":"-","k":"w"},{"r":5,"c":37,"a":"F","k":"b"},{"r":5,"c":38,"a":"H","k":"c"},{"r":5,"c":39,"a":"C","k":"p"},{"r":5,"c":40,"a":"Y","k":"c"},{"r":5,"c":41,"a":"C","k":"p"},{"r":5,"c":42,"a":"P","k":"y"},{"r":5,"c":43,"a":"V","k":"b"},{"r":5,"c":44,"a":"G","k":"o"},{"r":5,"c":45,"a":"F","k":"b"},
{"r":6,"c":1,"a":"E","k":"m"},{"r":6,"c":2,"a":"G","k":"o"},{"r":6,"c":3,"a":"M","k":"b"},{"r":6,"c":4,"a":"K","k":"r"},{"r":6,"c":5,"a":"V","k":"b"},{"r":6,"c":6,"a":"F","k":"b"},{"r":6,"c":7,"a":"E","k":"m"},{"r":6,"c":8,"a":"E","k":"m"},{"r":6,"c":9,"a":"L","k":"b"},{"r":6,"c":10,"a":"L","k":"b"},{"r":6,"c":11,"a":"L","k":"b"},{"r":6,"c":12,"a":"D","k":"m"},{"r":6,"c":13,"a":"A","k":"b"},{"r":6,"c":14,"a":"D","k":"m"},{"r":6,"c":15,"a":"W","k":"b"},{"r":6,"c":16,"a":"S","k":"g"},{"r":6,"c":17,"a":"I","k":"b"},{"r":6,"c":18,"a":"N","k":"g"},{"r":6,"c":19,"a":"A","k":"b"},{"r":6,"c":20,"a":"G","k":"o"},{"r":6,"c":21,"a":"S","k":"g"},{"r":6,"c":22,"a":"W","k":"b"},{"r":6,"c":23,"a":"M","k":"b"},{"r":6,"c":24,"a":"W","k":"b"},{"r":6,"c":25,"a":"L","k":"b"},{"r":6,"c":26,"a":"S","k":"g"},{"r":6,"c":27,"a":"C","k":"b"},{"r":6,"c":28,"a":"S","k":"g"},{"r":6,"c":29,"a":"S","k":"w"},{"r":6,"c":30,"a":"F","k":"b"},{"r":6,"c":31,"a":"F","k":"b"},{"r":6,"c":32,"a":"Q","k":"g"},{"r":6,"c":33,"a":"Q","k":"g"},{"r":6,"c":34,"a":"F","k":"b"},{"r":6,"c":35,"a":"-","k":"w"},{"r":6,"c":36,"a":"-","k":"w"},{"r":6,"c":37,"a":"F","k":"b"},{"r":6,"c":38,"a":"H","k":"c"},{"r":6,"c":39,"a":"C","k":"p"},{"r":6,"c":40,"a":"Y","k":"c"},{"r":6,"c":41,"a":"C","k":"p"},{"r":6,"c":42,"a":"P","k":"y"},{"r":6,"c":43,"a":"V","k":"b"},{"r":6,"c":44,"a":"G","k":"o"},{"r":6,"c":45,"a":"F","k":"b"},
{"r":7,"c":1,"a":"E","k":"m"},{"r":7,"c":2,"a":"G","k":"o"},{"r":7,"c":3,"a":"M","k":"b"},{"r":7,"c":4,"a":"K","k":"r"},{"r":7,"c":5,"a":"V","k":"b"},{"r":7,"c":6,"a":"F","k":"b"},{"r":7,"c":7,"a":"E","k":"m"},{"r":7,"c":8,"a":"E","k":"m"},{"r":7,"c":9,"a":"L","k":"b"},{"r":7,"c":10,"a":"L","k":"b"},{"r":7,"c":11,"a":"L","k":"b"},{"r":7,"c":12,"a":"D","k":"m"},{"r":7,"c":13,"a":"A","k":"b"},{"r":7,"c":14,"a":"D","k":"m"},{"r":7,"c":15,"a":"W","k":"b"},{"r":7,"c":16,"a":"S","k":"g"},{"r":7,"c":17,"a":"I","k":"b"},{"r":7,"c":18,"a":"N","k":"g"},{"r":7,"c":19,"a":"A","k":"b"},{"r":7,"c":20,"a":"G","k":"o"},{"r":7,"c":21,"a":"S","k":"g"},{"r":7,"c":22,"a":"W","k":"b"},{"r":7,"c":23,"a":"M","k":"b"},{"r":7,"c":24,"a":"W","k":"b"},{"r":7,"c":25,"a":"L","k":"b"},{"r":7,"c":26,"a":"S","k":"g"},{"r":7,"c":27,"a":"C","k":"b"},{"r":7,"c":28,"a":"S","k":"g"},{"r":7,"c":29,"a":"S","k":"w"},{"r":7,"c":30,"a":"F","k":"b"},{"r":7,"c":31,"a":"F","k":"b"},{"r":7,"c":32,"a":"Q","k":"g"},{"r":7,"c":33,"a":"Q","k":"g"},{"r":7,"c":34,"a":"F","k":"b"},{"r":7,"c":35,"a":"-","k":"w"},{"r":7,"c":36,"a":"-","k":"w"},{"r":7,"c":37,"a":"F","k":"b"},{"r":7,"c":38,"a":"H","k":"c"},{"r":7,"c":39,"a":"C","k":"p"},{"r":7,"c":40,"a":"Y","k":"c"},{"r":7,"c":41,"a":"C","k":"p"},{"r":7,"c":42,"a":"P","k":"y"},{"r":7,"c":43,"a":"V","k":"b"},{"r":7,"c":44,"a":"G","k":"o"},{"r":7,"c":45,"a":"F","k":"b"},
{"r":8,"c":1,"a":"E","k":"m"},{"r":8,"c":2,"a":"G","k":"o"},{"r":8,"c":3,"a":"M","k":"b"},{"r":8,"c":4,"a":"K","k":"r"},{"r":8,"c":5,"a":"V","k":"b"},{"r":8,"c":6,"a":"F","k":"b"},{"r":8,"c":7,"a":"E","k":"m"},{"r":8,"c":8,"a":"E","k":"m"},{"r":8,"c":9,"a":"L","k":"b"},{"r":8,"c":10,"a":"L","k":"b"},{"r":8,"c":11,"a":"L","k":"b"},{"r":8,"c":12,"a":"D","k":"m"},{"r":8,"c":13,"a":"A","k":"b"},{"r":8,"c":14,"a":"D","k":"m"},{"r":8,"c":15,"a":"W","k":"b"},{"r":8,"c":16,"a":"S","k":"g"},{"r":8,"c":17,"a":"V","k":"b"},{"r":8,"c":18,"a":"N","k":"g"},{"r":8,"c":19,"a":"A","k":"b"},{"r":8,"c":20,"a":"G","k":"o"},{"r":8,"c":21,"a":"S","k":"g"},{"r":8,"c":22,"a":"W","k":"b"},{"r":8,"c":23,"a":"M","k":"b"},{"r":8,"c":24,"a":"W","k":"b"},{"r":8,"c":25,"a":"L","k":"b"},{"r":8,"c":26,"a":"S","k":"g"},{"r":8,"c":27,"a":"C","k":"b"},{"r":8,"c":28,"a":"S","k":"g"},{"r":8,"c":29,"a":"S","k":"w"},{"r":8,"c":30,"a":"F","k":"b"},{"r":8,"c":31,"a":"F","k":"b"},{"r":8,"c":32,"a":"Q","k":"g"},{"r":8,"c":33,"a":"Q","k":"g"},{"r":8,"c":34,"a":"F","k":"b"},{"r":8,"c":35,"a":"-","k":"w"},{"r":8,"c":36,"a":"-","k":"w"},{"r":8,"c":37,"a":"F","k":"b"},{"r":8,"c":38,"a":"H","k":"c"},{"r":8,"c":39,"a":"C","k":"p"},{"r":8,"c":40,"a":"Y","k":"c"},{"r":8,"c":41,"a":"C","k":"p"},{"r":8,"c":42,"a":"P","k":"y"},{"r":8,"c":43,"a":"V","k":"b"},{"r":8,"c":44,"a":"G","k":"o"},{"r":8,"c":45,"a":"F","k":"b"},
{"r":9,"c":1,"a":"S","k":"w"},{"r":9,"c":2,"a":"G","k":"o"},{"r":9,"c":3,"a":"V","k":"b"},{"r":9,"c":4,"a":"R","k":"r"},{"r":9,"c":5,"a":"V","k":"b"},{"r":9,"c":6,"a":"F","k":"b"},{"r":9,"c":7,"a":"D","k":"m"},{"r":9,"c":8,"a":"E","k":"m"},{"r":9,"c":9,"a":"L","k":"b"},{"r":9,"c":10,"a":"L","k":"b"},{"r":9,"c":11,"a":"L","k":"b"},{"r":9,"c":12,"a":"D","k":"m"},{"r":9,"c":13,"a":"A","k":"b"},{"r":9,"c":14,"a":"D","k":"m"},{"r":9,"c":15,"a":"F","k":"b"},{"r":9,"c":16,"a":"S","k":"g"},{"r":9,"c":17,"a":"V","k":"b"},{"r":9,"c":18,"a":"N","k":"g"},{"r":9,"c":19,"a":"A","k":"b"},{"r":9,"c":20,"a":"G","k":"o"},{"r":9,"c":21,"a":"S","k":"g"},{"r":9,"c":22,"a":"W","k":"b"},{"r":9,"c":23,"a":"M","k":"b"},{"r":9,"c":24,"a":"W","k":"b"},{"r":9,"c":25,"a":"L","k":"b"},{"r":9,"c":26,"a":"S","k":"g"},{"r":9,"c":27,"a":"C","k":"b"},{"r":9,"c":28,"a":"S","k":"g"},{"r":9,"c":29,"a":"A","k":"w"},{"r":9,"c":30,"a":"F","k":"b"},{"r":9,"c":31,"a":"F","k":"b"},{"r":9,"c":32,"a":"Q","k":"g"},{"r":9,"c":33,"a":"Q","k":"g"},{"r":9,"c":34,"a":"F","k":"b"},{"r":9,"c":35,"a":"-","k":"w"},{"r":9,"c":36,"a":"-","k":"w"},{"r":9,"c":37,"a":"F","k":"b"},{"r":9,"c":38,"a":"H","k":"c"},{"r":9,"c":39,"a":"C","k":"p"},{"r":9,"c":40,"a":"Y","k":"c"},{"r":9,"c":41,"a":"C","k":"p"},{"r":9,"c":42,"a":"P","k":"y"},{"r":9,"c":43,"a":"V","k":"b"},{"r":9,"c":44,"a":"G","k":"o"},{"r":9,"c":45,"a":"F","k":"b"},
{"r":10,"c":1,"a":"S","k":"w"},{"r":10,"c":2,"a":"G","k":"o"},{"r":10,"c":3,"a":"V","k":"b"},{"r":10,"c":4,"a":"R","k":"r"},{"r":10,"c":5,"a":"V","k":"b"},{"r":10,"c":6,"a":"F","k":"b"},{"r":10,"c":7,"a":"D","k":"m"},{"r":10,"c":8,"a":"E","k":"m"},{"r":10,"c":9,"a":"L","k":"b"},{"r":10,"c":10,"a":"L","k":"b"},{"r":10,"c":11,"a":"L","k":"b"},{"r":10,"c":12,"a":"D","k":"m"},{"r":10,"c":13,"a":"A","k":"b"},{"r":10,"c":14,"a":"D","k":"m"},{"r":10,"c":15,"a":"F","k":"b"},{"r":10,"c":16,"a":"S","k":"g"},{"r":10,"c":17,"a":"V","k":"b"},{"r":10,"c":18,"a":"N","k":"g"},{"r":10,"c":19,"a":"A","k":"b"},{"r":10,"c":20,"a":"G","k":"o"},{"r":10,"c":21,"a":"S","k":"g"},{"r":10,"c":22,"a":"W","k":"b"},{"r":10,"c":23,"a":"M","k":"b"},{"r":10,"c":24,"a":"W","k":"b"},{"r":10,"c":25,"a":"L","k":"b"},{"r":10,"c":26,"a":"S","k":"g"},{"r":10,"c":27,"a":"C","k":"b"},{"r":10,"c":28,"a":"S","k":"g"},{"r":10,"c":29,"a":"A","k":"w"},{"r":10,"c":30,"a":"F","k":"b"},{"r":10,"c":31,"a":"F","k":"b"},{"r":10,"c":32,"a":"Q","k":"g"},{"r":10,"c":33,"a":"Q","k":"g"},{"r":10,"c":34,"a":"F","k":"b"},{"r":10,"c":35,"a":"-","k":"w"},{"r":10,"c":36,"a":"-","k":"w"},{"r":10,"c":37,"a":"F","k":"b"},{"r":10,"c":38,"a":"H","k":"c"},{"r":10,"c":39,"a":"C","k":"p"},{"r":10,"c":40,"a":"Y","k":"c"},{"r":10,"c":41,"a":"C","k":"p"},{"r":10,"c":42,"a":"P","k":"y"},{"r":10,"c":43,"a":"V","k":"b"},{"r":10,"c":44,"a":"G","k":"o"},{"r":10,"c":45,"a":"F","k":"b"},
{"r":11,"c":1,"a":"S","k":"w"},{"r":11,"c":2,"a":"G","k":"o"},{"r":11,"c":3,"a":"V","k":"b"},{"r":11,"c":4,"a":"R","k":"r"},{"r":11,"c":5,"a":"V","k":"b"},{"r":11,"c":6,"a":"F","k":"b"},{"r":11,"c":7,"a":"D","k":"m"},{"r":11,"c":8,"a":"E","k":"m"},{"r":11,"c":9,"a":"L","k":"b"},{"r":11,"c":10,"a":"L","k":"b"},{"r":11,"c":11,"a":"L","k":"b"},{"r":11,"c":12,"a":"D","k":"m"},{"r":11,"c":13,"a":"A","k":"b"},{"r":11,"c":14,"a":"D","k":"m"},{"r":11,"c":15,"a":"F","k":"b"},{"r":11,"c":16,"a":"S","k":"g"},{"r":11,"c":17,"a":"V","k":"b"},{"r":11,"c":18,"a":"N","k":"g"},{"r":11,"c":19,"a":"A","k":"b"},{"r":11,"c":20,"a":"G","k":"o"},{"r":11,"c":21,"a":"S","k":"g"},{"r":11,"c":22,"a":"W","k":"b"},{"r":11,"c":23,"a":"M","k":"b"},{"r":11,"c":24,"a":"W","k":"b"},{"r":11,"c":25,"a":"L","k":"b"},{"r":11,"c":26,"a":"S","k":"g"},{"r":11,"c":27,"a":"C","k":"b"},{"r":11,"c":28,"a":"S","k":"g"},{"r":11,"c":29,"a":"A","k":"w"},{"r":11,"c":30,"a":"F","k":"b"},{"r":11,"c":31,"a":"F","k":"b"},{"r":11,"c":32,"a":"Q","k":"g"},{"r":11,"c":33,"a":"Q","k":"g"},{"r":11,"c":34,"a":"F","k":"b"},{"r":11,"c":35,"a":"-","k":"w"},{"r":11,"c":36,"a":"-","k":"w"},{"r":11,"c":37,"a":"F","k":"b"},{"r":11,"c":38,"a":"H","k":"c"},{"r":11,"c":39,"a":"C","k":"p"},{"r":11,"c":40,"a":"Y","k":"c"},{"r":11,"c":41,"a":"C","k":"p"},{"r":11,"c":42,"a":"P","k":"y"},{"r":11,"c":43,"a":"V","k":"b"},{"r":11,"c":44,"a":"G","k":"o"},{"r":11,"c":45,"a":"F","k":"b"},
{"r":12,"c":1,"a":"S","k":"w"},{"r":12,"c":2,"a":"G","k":"o"},{"r":12,"c":3,"a":"V","k":"b"},{"r":12,"c":4,"a":"R","k":"r"},{"r":12,"c":5,"a":"V","k":"b"},{"r":12,"c":6,"a":"F","k":"b"},{"r":12,"c":7,"a":"D","k":"m"},{"r":12,"c":8,"a":"E","k":"m"},{"r":12,"c":9,"a":"L","k":"b"},{"r":12,"c":10,"a":"L","k":"b"},{"r":12,"c":11,"a":"L","k":"b"},{"r":12,"c":12,"a":"D","k":"m"},{"r":12,"c":13,"a":"A","k":"b"},{"r":12,"c":14,"a":"D","k":"m"},{"r":12,"c":15,"a":"F","k":"b"},{"r":12,"c":16,"a":"S","k":"g"},{"r":12,"c":17,"a":"V","k":"b"},{"r":12,"c":18,"a":"N","k":"g"},{"r":12,"c":19,"a":"A","k":"b"},{"r":12,"c":20,"a":"G","k":"o"},{"r":12,"c":21,"a":"S","k":"g"},{"r":12,"c":22,"a":"W","k":"b"},{"r":12,"c":23,"a":"M","k":"b"},{"r":12,"c":24,"a":"W","k":"b"},{"r":12,"c":25,"a":"L","k":"b"},{"r":12,"c":26,"a":"S","k":"g"},{"r":12,"c":27,"a":"C","k":"b"},{"r":12,"c":28,"a":"S","k":"g"},{"r":12,"c":29,"a":"A","k":"w"},{"r":12,"c":30,"a":"F","k":"b"},{"r":12,"c":31,"a":"F","k":"b"},{"r":12,"c":32,"a":"Q","k":"g"},{"r":12,"c":33,"a":"Q","k":"g"},{"r":12,"c":34,"a":"F","k":"b"},{"r":12,"c":35,"a":"-","k":"w"},{"r":12,"c":36,"a":"-","k":"w"},{"r":12,"c":37,"a":"F","k":"b"},{"r":12,"c":38,"a":"H","k":"c"},{"r":12,"c":39,"a":"C","k":"p"},{"r":12,"c":40,"a":"Y","k":"c"},{"r":12,"c":41,"a":"C","k":"p"},{"r":12,"c":42,"a":"P","k":"y"},{"r":12,"c":43,"a":"V","k":"b"},{"r":12,"c":44,"a":"G","k":"o"},{"r":12,"c":45,"a":"F","k":"b"},
{"r":13,"c":1,"a":"A","k":"w"},{"r":13,"c":2,"a":"G","k":"o"},{"r":13,"c":3,"a":"V","k":"b"},{"r":13,"c":4,"a":"Q","k":"g"},{"r":13,"c":5,"a":"H","k":"c"},{"r":13,"c":6,"a":"F","k":"b"},{"r":13,"c":7,"a":"L","k":"w"},{"r":13,"c":8,"a":"K","k":"w"},{"r":13,"c":9,"a":"Y","k":"c"},{"r":13,"c":10,"a":"L","k":"b"},{"r":13,"c":11,"a":"L","k":"b"},{"r":13,"c":12,"a":"D","k":"m"},{"r":13,"c":13,"a":"A","k":"b"},{"r":13,"c":14,"a":"D","k":"m"},{"r":13,"c":15,"a":"W","k":"b"},{"r":13,"c":16,"a":"S","k":"g"},{"r":13,"c":17,"a":"V","k":"b"},{"r":13,"c":18,"a":"C","k":"w"},{"r":13,"c":19,"a":"A","k":"b"},{"r":13,"c":20,"a":"G","k":"o"},{"r":13,"c":21,"a":"N","k":"w"},{"r":13,"c":22,"a":"W","k":"b"},{"r":13,"c":23,"a":"M","k":"b"},{"r":13,"c":24,"a":"W","k":"b"},{"r":13,"c":25,"a":"V","k":"b"},{"r":13,"c":26,"a":"S","k":"g"},{"r":13,"c":27,"a":"S","k":"g"},{"r":13,"c":28,"a":"S","k":"g"},{"r":13,"c":29,"a":"A","k":"w"},{"r":13,"c":30,"a":"F","k":"b"},{"r":13,"c":31,"a":"E","k":"w"},{"r":13,"c":32,"a":"K","k":"w"},{"r":13,"c":33,"a":"L","k":"w"},{"r":13,"c":34,"a":"L","k":"b"},{"r":13,"c":35,"a":"D","k":"w"},{"r":13,"c":36,"a":"S","k":"w"},{"r":13,"c":37,"a":"S","k":"g"},{"r":13,"c":38,"a":"S","k":"g"},{"r":13,"c":39,"a":"C","k":"p"},{"r":13,"c":40,"a":"T","k":"g"},{"r":13,"c":41,"a":"S","k":"g"},{"r":13,"c":42,"a":"P","k":"y"},{"r":13,"c":43,"a":"I","k":"b"},{"r":13,"c":44,"a":"A","k":"w"},{"r":13,"c":45,"a":"L","k":"b"},
{"r":14,"c":1,"a":"E","k":"m"},{"r":14,"c":2,"a":"G","k":"o"},{"r":14,"c":3,"a":"L","k":"b"},{"r":14,"c":4,"a":"Q","k":"g"},{"r":14,"c":5,"a":"H","k":"c"},{"r":14,"c":6,"a":"F","k":"b"},{"r":14,"c":7,"a":"L","k":"w"},{"r":14,"c":8,"a":"K","k":"w"},{"r":14,"c":9,"a":"Y","k":"c"},{"r":14,"c":10,"a":"L","k":"b"},{"r":14,"c":11,"a":"L","k":"b"},{"r":14,"c":12,"a":"D","k":"m"},{"r":14,"c":13,"a":"A","k":"b"},{"r":14,"c":14,"a":"D","k":"m"},{"r":14,"c":15,"a":"W","k":"b"},{"r":14,"c":16,"a":"S","k":"g"},{"r":14,"c":17,"a":"V","k":"b"},{"r":14,"c":18,"a":"C","k":"w"},{"r":14,"c":19,"a":"A","k":"b"},{"r":14,"c":20,"a":"G","k":"o"},{"r":14,"c":21,"a":"N","k":"w"},{"r":14,"c":22,"a":"W","k":"b"},{"r":14,"c":23,"a":"M","k":"b"},{"r":14,"c":24,"a":"W","k":"b"},{"r":14,"c":25,"a":"V","k":"b"},{"r":14,"c":26,"a":"S","k":"g"},{"r":14,"c":27,"a":"S","k":"g"},{"r":14,"c":28,"a":"S","k":"g"},{"r":14,"c":29,"a":"A","k":"w"},{"r":14,"c":30,"a":"F","k":"b"},{"r":14,"c":31,"a":"E","k":"w"},{"r":14,"c":32,"a":"R","k":"w"},{"r":14,"c":33,"a":"L","k":"w"},{"r":14,"c":34,"a":"L","k":"b"},{"r":14,"c":35,"a":"D","k":"w"},{"r":14,"c":36,"a":"S","k":"w"},{"r":14,"c":37,"a":"S","k":"g"},{"r":14,"c":38,"a":"K","k":"w"},{"r":14,"c":39,"a":"C","k":"p"},{"r":14,"c":40,"a":"T","k":"g"},{"r":14,"c":41,"a":"C","k":"p"},{"r":14,"c":42,"a":"P","k":"y"},{"r":14,"c":43,"a":"I","k":"b"},{"r":14,"c":44,"a":"A","k":"w"},{"r":14,"c":45,"a":"L","k":"b"},
{"r":15,"c":1,"a":"A","k":"w"},{"r":15,"c":2,"a":"G","k":"o"},{"r":15,"c":3,"a":"V","k":"b"},{"r":15,"c":4,"a":"Q","k":"g"},{"r":15,"c":5,"a":"H","k":"c"},{"r":15,"c":6,"a":"F","k":"b"},{"r":15,"c":7,"a":"L","k":"w"},{"r":15,"c":8,"a":"K","k":"w"},{"r":15,"c":9,"a":"Y","k":"c"},{"r":15,"c":10,"a":"L","k":"b"},{"r":15,"c":11,"a":"L","k":"b"},{"r":15,"c":12,"a":"D","k":"m"},{"r":15,"c":13,"a":"A","k":"b"},{"r":15,"c":14,"a":"D","k":"m"},{"r":15,"c":15,"a":"W","k":"b"},{"r":15,"c":16,"a":"S","k":"g"},{"r":15,"c":17,"a":"V","k":"b"},{"r":15,"c":18,"a":"C","k":"w"},{"r":15,"c":19,"a":"A","k":"b"},{"r":15,"c":20,"a":"G","k":"o"},{"r":15,"c":21,"a":"N","k":"w"},{"r":15,"c":22,"a":"W","k":"b"},{"r":15,"c":23,"a":"M","k":"b"},{"r":15,"c":24,"a":"W","k":"b"},{"r":15,"c":25,"a":"V","k":"b"},{"r":15,"c":26,"a":"S","k":"g"},{"r":15,"c":27,"a":"S","k":"g"},{"r":15,"c":28,"a":"S","k":"g"},{"r":15,"c":29,"a":"A","k":"w"},{"r":15,"c":30,"a":"F","k":"b"},{"r":15,"c":31,"a":"E","k":"w"},{"r":15,"c":32,"a":"K","k":"w"},{"r":15,"c":33,"a":"L","k":"w"},{"r":15,"c":34,"a":"L","k":"b"},{"r":15,"c":35,"a":"D","k":"w"},{"r":15,"c":36,"a":"S","k":"w"},{"r":15,"c":37,"a":"S","k":"g"},{"r":15,"c":38,"a":"S","k":"g"},{"r":15,"c":39,"a":"C","k":"p"},{"r":15,"c":40,"a":"T","k":"g"},{"r":15,"c":41,"a":"S","k":"g"},{"r":15,"c":42,"a":"P","k":"y"},{"r":15,"c":43,"a":"V","k":"b"},{"r":15,"c":44,"a":"A","k":"w"},{"r":15,"c":45,"a":"L","k":"b"},
{"r":16,"c":1,"a":"H","k":"w"},{"r":16,"c":2,"a":"G","k":"o"},{"r":16,"c":3,"a":"L","k":"b"},{"r":16,"c":4,"a":"Q","k":"g"},{"r":16,"c":5,"a":"H","k":"c"},{"r":16,"c":6,"a":"F","k":"b"},{"r":16,"c":7,"a":"L","k":"w"},{"r":16,"c":8,"a":"K","k":"w"},{"r":16,"c":9,"a":"Y","k":"c"},{"r":16,"c":10,"a":"L","k":"b"},{"r":16,"c":11,"a":"L","k":"b"},{"r":16,"c":12,"a":"D","k":"m"},{"r":16,"c":13,"a":"A","k":"b"},{"r":16,"c":14,"a":"D","k":"m"},{"r":16,"c":15,"a":"W","k":"b"},{"r":16,"c":16,"a":"S","k":"g"},{"r":16,"c":17,"a":"V","k":"b"},{"r":16,"c":18,"a":"C","k":"w"},{"r":16,"c":19,"a":"A","k":"b"},{"r":16,"c":20,"a":"G","k":"o"},{"r":16,"c":21,"a":"N","k":"w"},{"r":16,"c":22,"a":"W","k":"b"},{"r":16,"c":23,"a":"M","k":"b"},{"r":16,"c":24,"a":"W","k":"b"},{"r":16,"c":25,"a":"V","k":"b"},{"r":16,"c":26,"a":"S","k":"g"},{"r":16,"c":27,"a":"S","k":"g"},{"r":16,"c":28,"a":"S","k":"g"},{"r":16,"c":29,"a":"A","k":"w"},{"r":16,"c":30,"a":"F","k":"b"},{"r":16,"c":31,"a":"E","k":"w"},{"r":16,"c":32,"a":"R","k":"w"},{"r":16,"c":33,"a":"L","k":"w"},{"r":16,"c":34,"a":"L","k":"b"},{"r":16,"c":35,"a":"D","k":"w"},{"r":16,"c":36,"a":"S","k":"w"},{"r":16,"c":37,"a":"S","k":"g"},{"r":16,"c":38,"a":"L","k":"b"},{"r":16,"c":39,"a":"V","k":"b"},{"r":16,"c":40,"a":"T","k":"g"},{"r":16,"c":41,"a":"C","k":"p"},{"r":16,"c":42,"a":"P","k":"y"},{"r":16,"c":43,"a":"V","k":"b"},{"r":16,"c":44,"a":"A","k":"w"},{"r":16,"c":45,"a":"L","k":"b"},
{"r":17,"c":1,"a":"P","k":"y"},{"r":17,"c":2,"a":"G","k":"o"},{"r":17,"c":3,"a":"L","k":"b"},{"r":17,"c":4,"a":"K","k":"r"},{"r":17,"c":5,"a":"H","k":"c"},{"r":17,"c":6,"a":"F","k":"b"},{"r":17,"c":7,"a":"L","k":"w"},{"r":17,"c":8,"a":"K","k":"w"},{"r":17,"c":9,"a":"Y","k":"c"},{"r":17,"c":10,"a":"L","k":"b"},{"r":17,"c":11,"a":"L","k":"b"},{"r":17,"c":12,"a":"D","k":"m"},{"r":17,"c":13,"a":"A","k":"b"},{"r":17,"c":14,"a":"D","k":"m"},{"r":17,"c":15,"a":"W","k":"b"},{"r":17,"c":16,"a":"S","k":"g"},{"r":17,"c":17,"a":"V","k":"b"},{"r":17,"c":18,"a":"C","k":"w"},{"r":17,"c":19,"a":"A","k":"b"},{"r":17,"c":20,"a":"G","k":"o"},{"r":17,"c":21,"a":"N","k":"w"},{"r":17,"c":22,"a":"W","k":"b"},{"r":17,"c":23,"a":"M","k":"b"},{"r":17,"c":24,"a":"W","k":"b"},{"r":17,"c":25,"a":"V","k":"b"},{"r":17,"c":26,"a":"S","k":"g"},{"r":17,"c":27,"a":"S","k":"g"},{"r":17,"c":28,"a":"S","k":"g"},{"r":17,"c":29,"a":"A","k":"w"},{"r":17,"c":30,"a":"F","k":"b"},{"r":17,"c":31,"a":"E","k":"w"},{"r":17,"c":32,"a":"R","k":"w"},{"r":17,"c":33,"a":"L","k":"w"},{"r":17,"c":34,"a":"L","k":"b"},{"r":17,"c":35,"a":"D","k":"w"},{"r":17,"c":36,"a":"S","k":"w"},{"r":17,"c":37,"a":"S","k":"g"},{"r":17,"c":38,"a":"L","k":"b"},{"r":17,"c":39,"a":"V","k":"b"},{"r":17,"c":40,"a":"T","k":"g"},{"r":17,"c":41,"a":"C","k":"p"},{"r":17,"c":42,"a":"P","k":"y"},{"r":17,"c":43,"a":"V","k":"b"},{"r":17,"c":44,"a":"A","k":"w"},{"r":17,"c":45,"a":"L","k":"b"}
]},
"vconcat":[
{"width":1123,"height":352,"layer":[
{"data":{"name":"top"},"mark":{"type":"point","shape":"M-1,-1.133H1V1.133H-1Z","size":299,"filled":true,"opacity":1,"strokeWidth":0},"encoding":{"x":{"field":"c","type":"quantitative","scale":{"domain":[-18.326,47.27],"nice":false,"zero":false}},"y":{"field":"r","type":"quantitative","scale":{"domain":[0.1915,18.289],"nice":false,"zero":false,"reverse":true}},"color":{"field":"k","type":"nominal","legend":null,"scale":{"domain":["b","r","g","p","m","o","c","y","w"],"range":["#80b3e6","#e63319","#19cc19","#e68080","#cc4dcc","#e6994d","#19b3b3","#cccc00","#ffffff"]}}}},
{"data":{"values":[{}]},"mark":{"type":"rect","color":"#c0c0c0"},"encoding":{"x":{"datum":-17.04,"type":"quantitative","scale":{"domain":[-18.326,47.27],"nice":false,"zero":false}},"x2":{"datum":0.5},"y":{"datum":15.5,"type":"quantitative","scale":{"domain":[0.1915,18.289],"nice":false,"zero":false,"reverse":true}},"y2":{"datum":16.5}}},
{"data":{"name":"top"},"mark":{"type":"text","font":"DejaVu Sans","fontSize":14,"color":"#000","align":"center","baseline":"middle"},"encoding":{"x":{"field":"c","type":"quantitative","scale":{"domain":[-18.326,47.27],"nice":false,"zero":false}},"y":{"field":"r","type":"quantitative","scale":{"domain":[0.1915,18.289],"nice":false,"zero":false,"reverse":true}},"text":{"field":"a"}}},
{"data":{"values":[{}]},"mark":{"type":"rect","filled":false,"stroke":"#e36b6b","strokeDash":[3,3],"strokeWidth":1},"encoding":{"x":{"datum":0.5,"type":"quantitative"},"x2":{"datum":45.5},"y":{"datum":15.5,"type":"quantitative"},"y2":{"datum":16.5}}},
{"data":{"name":"names"},"mark":{"type":"text","font":"DejaVu Sans","fontStyle":"italic","fontSize":15,"color":"#000","align":"left","baseline":"middle"},"encoding":{"x":{"datum":-16.95,"type":"quantitative"},"y":{"field":"r","type":"quantitative"},"text":{"field":"n"}}},
{"data":{"values":[{}]},"mark":{"type":"rule","color":"#8c8c8c","strokeWidth":1},"encoding":{"x":{"datum":-17.04,"type":"quantitative"},"y":{"datum":0.45,"type":"quantitative"},"y2":{"datum":17.6}}},
{"data":{"values":[{}]},"mark":{"type":"rule","color":"#000","strokeWidth":2},"encoding":{"x":{"datum":-18.268,"type":"quantitative"},"y":{"datum":0.243,"type":"quantitative"},"y2":{"datum":18.289}}},
{"data":{"values":[{}]},"mark":{"type":"rule","color":"#000","strokeWidth":2},"encoding":{"x":{"datum":-18.268,"type":"quantitative"},"x2":{"datum":47.27},"y":{"datum":0.243,"type":"quantitative"}}},
{"data":{"name":"tickA"},"mark":{"type":"rule","color":"#a0a0a0","strokeWidth":1},"encoding":{"x":{"field":"c","type":"quantitative"},"y":{"datum":0.3,"type":"quantitative"},"y2":{"datum":0.5}}},
{"data":{"name":"arrA"},"mark":{"type":"rule","color":"#000","strokeWidth":6,"strokeCap":"butt"},"encoding":{"x":{"field":"x","type":"quantitative"},"y":{"field":"y","type":"quantitative"},"x2":{"field":"nx"},"y2":{"field":"ny"}}},
{"data":{"name":"arrA"},"transform":[{"calculate":"atan2((datum.tx-datum.x)*17.12,-(datum.ty-datum.y)*19.45)*180/PI","as":"ang"}],"mark":{"type":"point","shape":"M0,0L0.8,2L-0.8,2Z","size":676,"filled":true,"opacity":1,"color":"#000","strokeWidth":0},"encoding":{"x":{"field":"tx","type":"quantitative"},"y":{"field":"ty","type":"quantitative"},"angle":{"field":"ang","type":"quantitative","scale":null}}}
]},
{"width":1123,"height":365,"layer":[
{"data":{"name":"bot"},"mark":{"type":"point","shape":"M-1,-1.155H1V1.155H-1Z","size":303,"filled":true,"opacity":1,"strokeWidth":0},"encoding":{"x":{"field":"c","type":"quantitative","scale":{"domain":[-18.33,46.734],"nice":false,"zero":false}},"y":{"field":"r","type":"quantitative","scale":{"domain":[-0.5526,17.743],"nice":false,"zero":false,"reverse":true}},"color":{"field":"k","type":"nominal","legend":null,"scale":{"domain":["b","r","g","p","m","o","c","y","w"],"range":["#80b3e6","#e63319","#19cc19","#e68080","#cc4dcc","#e6994d","#19b3b3","#cccc00","#ffffff"]}}}},
{"data":{"values":[{}]},"mark":{"type":"rect","color":"#c0c0c0"},"encoding":{"x":{"datum":-17.055,"type":"quantitative","scale":{"domain":[-18.33,46.734],"nice":false,"zero":false}},"x2":{"datum":0.5},"y":{"datum":15.5,"type":"quantitative","scale":{"domain":[-0.5526,17.743],"nice":false,"zero":false,"reverse":true}},"y2":{"datum":16.5}}},
{"data":{"name":"bot"},"mark":{"type":"text","font":"DejaVu Sans","fontSize":14,"color":"#000","align":"center","baseline":"middle"},"encoding":{"x":{"field":"c","type":"quantitative","scale":{"domain":[-18.33,46.734],"nice":false,"zero":false}},"y":{"field":"r","type":"quantitative","scale":{"domain":[-0.5526,17.743],"nice":false,"zero":false,"reverse":true}},"text":{"field":"a"}}},
{"data":{"values":[{}]},"mark":{"type":"rect","filled":false,"stroke":"#e36b6b","strokeDash":[3,3],"strokeWidth":1},"encoding":{"x":{"datum":0.5,"type":"quantitative"},"x2":{"datum":45.5},"y":{"datum":15.5,"type":"quantitative"},"y2":{"datum":16.5}}},
{"data":{"name":"names"},"mark":{"type":"text","font":"DejaVu Sans","fontStyle":"italic","fontSize":15,"color":"#000","align":"left","baseline":"middle"},"encoding":{"x":{"datum":-16.97,"type":"quantitative"},"y":{"field":"r","type":"quantitative"},"text":{"field":"n"}}},
{"data":{"values":[{}]},"mark":{"type":"rule","color":"#8c8c8c","strokeWidth":1},"encoding":{"x":{"datum":-17.055,"type":"quantitative"},"y":{"datum":0.17,"type":"quantitative"},"y2":{"datum":17.64}}},
{"data":{"values":[{}]},"mark":{"type":"rule","color":"#000","strokeWidth":2},"encoding":{"x":{"datum":-18.272,"type":"quantitative"},"y":{"datum":-0.5526,"type":"quantitative"},"y2":{"datum":17.743}}},
{"data":{"name":"tickB"},"mark":{"type":"rule","color":"#a0a0a0","strokeWidth":1},"encoding":{"x":{"field":"c","type":"quantitative"},"y":{"datum":0.22,"type":"quantitative"},"y2":{"datum":0.5}}},
{"data":{"name":"arrB"},"mark":{"type":"rule","color":"#000","strokeWidth":6,"strokeCap":"butt"},"encoding":{"x":{"field":"x","type":"quantitative"},"y":{"field":"y","type":"quantitative"},"x2":{"field":"nx"},"y2":{"field":"ny"}}},
{"data":{"name":"arrB"},"transform":[{"calculate":"atan2((datum.tx-datum.x)*17.26,-(datum.ty-datum.y)*19.95)*180/PI","as":"ang"}],"mark":{"type":"point","shape":"M0,0L0.8,2L-0.8,2Z","size":676,"filled":true,"opacity":1,"color":"#000","strokeWidth":0},"encoding":{"x":{"field":"tx","type":"quantitative"},"y":{"field":"ty","type":"quantitative"},"angle":{"field":"ang","type":"quantitative","scale":null}}}
]}
]}
